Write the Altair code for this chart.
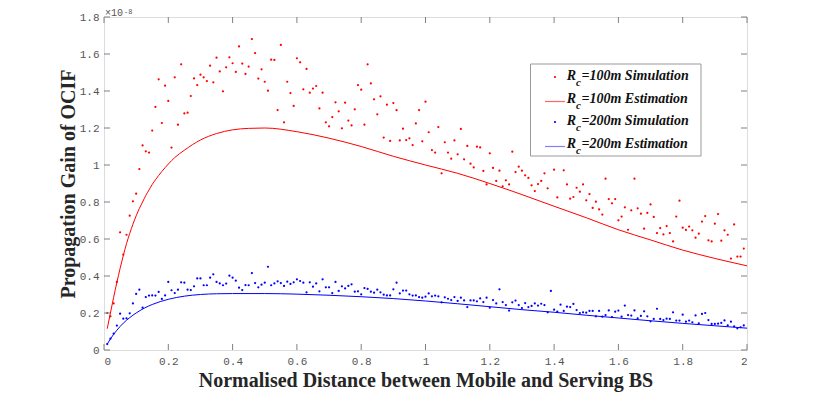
import altair as alt
import pandas as pd

# ---------------- data (values in units of 1e-8) ----------------
sim_x = [round(0.01 * i, 2) for i in range(1, 200)]

red_sim = [
    0.200, 0.182, 0.252, 0.368, 0.636, 0.515, 0.623, 0.726, 0.804, 0.845,
    0.978, 1.106, 1.074, 1.067, 1.186, 1.314, 1.463, 1.227, 1.429, 1.346,
    1.094, 1.474, 1.218, 1.544, 1.279, 1.283, 1.373, 1.468, 1.432, 1.488,
    1.474, 1.454, 1.537, 1.447, 1.580, 1.506, 1.398, 1.528, 1.582, 1.550,
    1.503, 1.641, 1.548, 1.492, 1.532, 1.681, 1.605, 1.467, 1.517, 1.450,
    1.402, 1.569, 1.568, 1.297, 1.649, 1.231, 1.450, 1.389, 1.319, 1.577,
    1.555, 1.409, 1.519, 1.391, 1.413, 1.427, 1.306, 1.391, 1.231, 1.209,
    1.259, 1.339, 1.290, 1.198, 1.337, 1.240, 1.214, 1.301, 1.432, 1.407,
    1.218, 1.544, 1.441, 1.355, 1.274, 1.371, 1.148, 1.326, 1.130, 1.335,
    1.296, 1.133, 1.196, 1.135, 1.144, 1.108, 1.225, 1.297, 1.128, 1.342,
    1.177, 1.081, 1.067, 1.205, 0.955, 1.123, 1.067, 1.034, 1.133, 1.058,
    1.195, 1.031, 1.103, 1.007, 0.987, 1.099, 1.095, 0.968, 0.895, 1.063,
    0.984, 0.914, 0.969, 0.885, 0.917, 0.895, 1.072, 0.962, 0.991, 0.969,
    0.944, 0.930, 0.890, 0.859, 0.897, 0.914, 0.955, 0.874, None, 0.975,
    0.825, None, 0.971, 0.895, 0.818, 0.827, 0.877, 0.856, 0.895, 0.809,
    0.843, 0.768, 0.802, 0.760, 0.732, 0.926, 0.816, 0.793, 0.816, 0.701,
    0.721, 0.771, 0.650, 0.755, 0.926, 0.766, 0.737, 0.656, 0.741, 0.787,
    0.719, 0.632, 0.659, 0.625, 0.670, 0.632, 0.587, 0.721, 0.807, 0.661,
    0.649, 0.667, 0.647, 0.607, 0.629, 0.694, 0.724, 0.593, 0.587, 0.683,
    0.735, 0.591, 0.647, 0.623, 0.494, 0.679, 0.505, 0.505, 0.548,
]

blue_sim = [
    0.032, 0.061, 0.088, 0.132, 0.196, 0.169, 0.171, 0.198, 0.252, 0.303,
    0.326, 0.229, 0.286, 0.294, 0.295, 0.294, 0.314, 0.276, 0.295, 0.368,
    0.323, 0.308, 0.326, 0.366, 0.364, 0.326, 0.324, 0.344, 0.387, 0.387,
    0.350, 0.350, 0.391, 0.409, 0.368, 0.360, 0.350, 0.359, 0.402, 0.391,
    0.375, 0.337, 0.324, 0.351, 0.350, 0.416, 0.362, 0.339, 0.353, 0.364,
    0.450, 0.350, 0.360, 0.371, 0.362, 0.346, 0.369, 0.357, 0.366, 0.382,
    0.373, 0.364, 0.312, 0.366, 0.342, 0.360, 0.317, 0.382, 0.339, 0.339,
    0.308, 0.368, 0.319, 0.344, 0.333, 0.346, 0.355, 0.315, 0.317, 0.301,
    0.335, 0.330, 0.315, 0.310, 0.326, 0.312, 0.299, 0.295, 0.295, 0.328,
    0.364, 0.306, 0.321, 0.321, 0.301, 0.294, 0.295, 0.286, 0.283, 0.288,
    0.306, 0.290, 0.294, 0.290, 0.258, 0.285, 0.277, 0.270, 0.286, 0.265,
    0.283, 0.268, 0.232, 0.268, 0.268, 0.263, 0.279, 0.259, 0.283, 0.229,
    0.270, 0.252, 0.328, 0.259, 0.243, 0.213, 0.258, 0.267, 0.243, 0.227,
    0.254, 0.232, 0.238, 0.252, 0.240, 0.250, 0.243, 0.204, 0.319, 0.218,
    0.207, 0.245, 0.211, 0.234, 0.232, 0.249, 0.216, 0.200, 0.204, 0.202,
    0.211, 0.211, 0.182, 0.211, 0.180, 0.189, 0.214, 0.178, 0.207, 0.213,
    0.180, 0.240, 0.189, 0.186, 0.214, 0.171, 0.184, 0.209, 0.182, 0.155,
    0.168, 0.223, 0.168, 0.162, 0.169, 0.168, 0.204, 0.159, 0.159, 0.191,
    0.153, 0.159, 0.150, 0.187, 0.144, 0.195, 0.200, 0.162, 0.141, 0.141,
    0.142, 0.146, 0.160, 0.133, 0.153, 0.128, 0.117, 0.123, 0.133,
]

red_est_x = [0.01, 0.02, 0.03, 0.04, 0.05, 0.06, 0.07, 0.08, 0.09, 0.10,
             0.11, 0.12, 0.13, 0.14, 0.15, 0.16, 0.18, 0.20, 0.22, 0.25,
             0.30, 0.35, 0.40, 0.45, 0.50, 0.60, 0.70, 0.80, 0.90, 1.00,
             1.10, 1.20, 1.30, 1.40, 1.50, 1.60, 1.70, 1.80, 1.90, 2.00]
red_est_y = [0.115, 0.20, 0.285, 0.365, 0.44, 0.51, 0.575, 0.63, 0.68, 0.725,
             0.765, 0.80, 0.835, 0.865, 0.895, 0.92, 0.965, 1.005, 1.04, 1.08,
             1.135, 1.17, 1.19, 1.198, 1.20, 1.18, 1.145, 1.10, 1.047, 1.00,
             0.955, 0.90, 0.84, 0.777, 0.715, 0.65, 0.595, 0.54, 0.495, 0.455]

blue_est_x = [0.01, 0.02, 0.03, 0.04, 0.05, 0.06, 0.08, 0.10, 0.125, 0.15,
              0.20, 0.25, 0.30, 0.35, 0.40, 0.50, 0.60, 0.70, 0.80, 0.90,
              1.00, 1.10, 1.20, 1.30, 1.40, 1.50, 1.60, 1.70, 1.80, 1.90, 2.00]
blue_est_y = [0.032, 0.06, 0.085, 0.107, 0.127, 0.145, 0.175, 0.20, 0.226, 0.246,
              0.274, 0.291, 0.300, 0.304, 0.305, 0.305, 0.302, 0.296, 0.288, 0.278,
              0.265, 0.25, 0.234, 0.218, 0.204, 0.188, 0.173, 0.158, 0.144, 0.131, 0.118]

x_ticks = [0, 0.2, 0.4, 0.6, 0.8, 1.0, 1.2, 1.4, 1.6, 1.8, 2.0]
y_ticks = [0, 0.2, 0.4, 0.6, 0.8, 1.0, 1.2, 1.4, 1.6, 1.8]

legend_rows = [
    ("=100m Simulation", "dot", "#ff0000"),
    ("=100m Estimation", "line", "#ff6666"),
    ("=200m Simulation", "dot", "#0000ff"),
    ("=200m Estimation", "line", "#8080ff"),
]

# ---------------- layout / style ----------------
W, H = 643, 333
RED, BLUE = "#ff0000", "#0000ff"
FRAME = "#808080"
SERIF = "Liberation Serif"
MONO = "Liberation Mono"

xs = alt.Scale(domain=[0, 2], nice=False, zero=False)
ys = alt.Scale(domain=[0, 1.8], nice=False, zero=False)

red_sim_df = pd.DataFrame({"x": sim_x, "y": red_sim}).dropna()
blue_sim_df = pd.DataFrame({"x": sim_x, "y": blue_sim}).dropna()
red_est_df = pd.DataFrame({"x": red_est_x, "y": red_est_y})
blue_est_df = pd.DataFrame({"x": blue_est_x, "y": blue_est_y})
xt_df = pd.DataFrame({"x": x_ticks})
yt_df = pd.DataFrame({"y": y_ticks})
one = pd.DataFrame({"a": [0]})

x_axis = alt.Axis(values=x_ticks, format=".1~f", ticks=False, domain=False, grid=False,
                  labelOverlap=False, labelFont=MONO, labelFontSize=11,
                  labelColor="#555555", labelPadding=5,
                  title="Normalised Distance between Mobile and Serving BS",
                  titleFont=SERIF, titleFontSize=20, titleFontWeight="bold",
                  titleColor="#262626", titlePadding=4)
y_axis = alt.Axis(values=y_ticks, format=".1~f", ticks=False, domain=False, grid=False,
                  labelOverlap=False, labelFont=MONO, labelFontSize=11,
                  labelColor="#555555", labelPadding=5,
                  title="Propagation Gain of OCIF",
                  titleFont=SERIF, titleFontSize=20, titleFontWeight="bold",
                  titleColor="#262626", titlePadding=1)

red_line = alt.Chart(red_est_df).mark_line(color=RED, strokeWidth=1, interpolate="monotone").encode(
    x=alt.X("x:Q", scale=xs, axis=x_axis),
    y=alt.Y("y:Q", scale=ys, axis=y_axis),
)
blue_line = alt.Chart(blue_est_df).mark_line(color=BLUE, strokeWidth=1, interpolate="monotone").encode(
    x=alt.X("x:Q", scale=xs, axis=x_axis), y=alt.Y("y:Q", scale=ys, axis=y_axis))
red_pts = alt.Chart(red_sim_df).mark_circle(color=RED, size=5, opacity=1).encode(
    x=alt.X("x:Q", scale=xs, axis=x_axis), y=alt.Y("y:Q", scale=ys, axis=y_axis))
blue_pts = alt.Chart(blue_sim_df).mark_circle(color=BLUE, size=5, opacity=1).encode(
    x=alt.X("x:Q", scale=xs, axis=x_axis), y=alt.Y("y:Q", scale=ys, axis=y_axis))

TL = 6
tick_b = alt.Chart(xt_df).mark_rule(color=FRAME).encode(
    x=alt.X("x:Q", scale=xs, axis=x_axis), y=alt.value(H), y2=alt.value(H - TL))
tick_t = alt.Chart(xt_df).mark_rule(color=FRAME).encode(
    x=alt.X("x:Q", scale=xs, axis=x_axis), y=alt.value(0), y2=alt.value(TL))
tick_l = alt.Chart(yt_df).mark_rule(color=FRAME).encode(
    y=alt.Y("y:Q", scale=ys, axis=y_axis), x=alt.value(0), x2=alt.value(TL))
tick_r = alt.Chart(yt_df).mark_rule(color=FRAME).encode(
    y=alt.Y("y:Q", scale=ys, axis=y_axis), x=alt.value(W - TL), x2=alt.value(W))

exp_main = alt.Chart(one).mark_text(text="\u00d710", font=MONO, fontSize=10, color="#555555",
                                    align="left", baseline="alphabetic").encode(
    x=alt.value(1), y=alt.value(-1.5))
exp_sup = alt.Chart(one).mark_text(text="-8", font=MONO, fontSize=7, color="#555555",
                                   align="left", baseline="alphabetic").encode(
    x=alt.value(20), y=alt.value(-3.5))

# custom legend (box, symbols, R with subscript c)
LX0, LX1, LY0, LY1 = 426.5, 597, 47, 139
legend_layers = [
    alt.Chart(one).mark_rect(fill="white", stroke="#999999", strokeWidth=1).encode(
        x=alt.value(LX0), x2=alt.value(LX1), y=alt.value(LY0), y2=alt.value(LY1))
]
row_base = [63, 85.5, 108, 130.5]
for (label, kind, col), yb in zip(legend_rows, row_base):
    if kind == "dot":
        legend_layers.append(alt.Chart(one).mark_circle(color=col, size=5, opacity=1).encode(
            x=alt.value(451), y=alt.value(yb - 3)))
    else:
        legend_layers.append(alt.Chart(one).mark_rule(color=col, strokeWidth=1.2).encode(
            x=alt.value(441), x2=alt.value(461), y=alt.value(yb - 1)))
    legend_layers.append(alt.Chart(one).mark_text(
        text="R", font=SERIF, fontSize=14, fontStyle="italic", fontWeight="bold",
        color="#111111", align="left", baseline="alphabetic").encode(
        x=alt.value(462.7), y=alt.value(yb)))
    legend_layers.append(alt.Chart(one).mark_text(
        text="c", font=SERIF, fontSize=11, fontStyle="italic", fontWeight="bold",
        color="#111111", align="left", baseline="alphabetic").encode(
        x=alt.value(472), y=alt.value(yb + 6)))
    legend_layers.append(alt.Chart(one).mark_text(
        text=label, font=SERIF, fontSize=14, fontStyle="italic", fontWeight="bold",
        color="#111111", align="left", baseline="alphabetic").encode(
        x=alt.value(477.5), y=alt.value(yb)))

chart = alt.layer(
    red_line, blue_line, red_pts, blue_pts,
    tick_b, tick_t, tick_l, tick_r,
    exp_main, exp_sup,
    *legend_layers,
).properties(
    width=W, height=H,
    autosize=alt.AutoSizeParams(type="none"),
    padding={"left": 96, "top": 9, "right": 75, "bottom": 48},
).configure_view(
    stroke=FRAME, strokeWidth=1
).configure_axis(
    labelOverlap=False, labelFlush=False
).configure(background="white")

chart.save("out.html", embed_options={"renderer": "svg", "actions": False})
